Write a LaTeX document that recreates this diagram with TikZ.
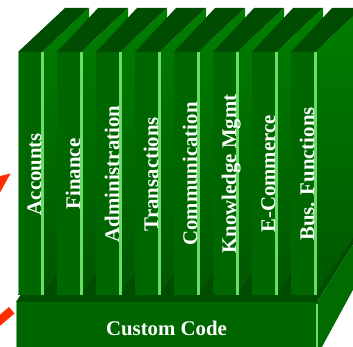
\documentclass[tikz,border=0pt]{standalone}
\usepackage{fontspec}
\setmainfont{Liberation Serif}
\definecolor{facegreen}{RGB}{0,102,0}
\definecolor{topgreen}{RGB}{0,76,0}
\definecolor{sidehi}{RGB}{0,126,0}
\definecolor{sidelo}{RGB}{0,86,0}
\definecolor{baseside}{RGB}{0,108,0}
\definecolor{edgegreen}{RGB}{104,222,104}
\definecolor{faintedge}{RGB}{120,175,120}
\definecolor{arrowred}{RGB}{255,45,0}
\begin{document}
\begin{tikzpicture}[x=1pt,y=-1pt,
  slabfront/.style={fill=facegreen},
  slabtop/.style={fill=topgreen},
  slabside/.style={top color=sidehi,bottom color=sidelo},
  sidewall/.style={fill=baseside},
  hilite/.style={fill=edgegreen},
  outline/.style={draw=faintedge,line width=0.6pt},
  spinetext/.style={text=white,inner sep=0pt,
    font=\bfseries\fontsize{20.8}{21}\selectfont},
  pointer/.style={fill=arrowred}]
\useasboundingbox (0,0) rectangle (353,347);
\clip (0,0) rectangle (353,347);

% base block: top, right side, front
\fill[slabtop] (16,302) -- (317,302) -- (380,202) -- (79,202) -- cycle;
\fill[sidewall] (317,302) -- (380,202) -- (380,240) -- (317,356) -- cycle;
\fill[slabfront] (16,302) rectangle (317,356);
\fill[hilite] (316,304) rectangle (318.3,356);
\draw[outline] (16.4,302) -- (16.4,347);
\node[spinetext,anchor=base] (custom) at (166.5,335) {Custom Code};

% the upright slabs, left to right
\foreach \lbl [count=\n from 0] in {Accounts,Finance,Administration,Transactions,Communication,Knowledge Mgmt,E-Commerce,Bus. Functions}{
  \pgfmathsetmacro{\xa}{18+39*\n}
  \pgfmathsetmacro{\xb}{\xa+24}
  \pgfmathsetmacro{\xl}{\n==0 ? \xa+47 : \xa+41}
  \shade[slabside] (\xb,52) -- (\xb+47,8) -- (\xb+47,224.5) -- (\xb,295) -- cycle;
  \fill[slabtop] (\xa,52) -- (\xb,52) -- (\xb+47,8) -- (\xl,8) -- cycle;
  \fill[slabfront] (\xa,52) rectangle (\xb,295);
  \fill[hilite] (\xb-0.8,52) rectangle (\xb+1.6,295);
  \node[spinetext,rotate=90,anchor=base] (spine\n) at (\xb-1,174) {\lbl};
}
\draw[outline] (18.4,52) -- (18.4,294);

% red pointers at the left border
\fill[pointer] (10.5,173.5) -- (-8,178) -- (-3,198) -- cycle;
\fill[pointer] (9,307) -- (14.5,313.5) -- (-15.5,339) -- (-21,332.5) -- cycle;
\end{tikzpicture}
\end{document}
